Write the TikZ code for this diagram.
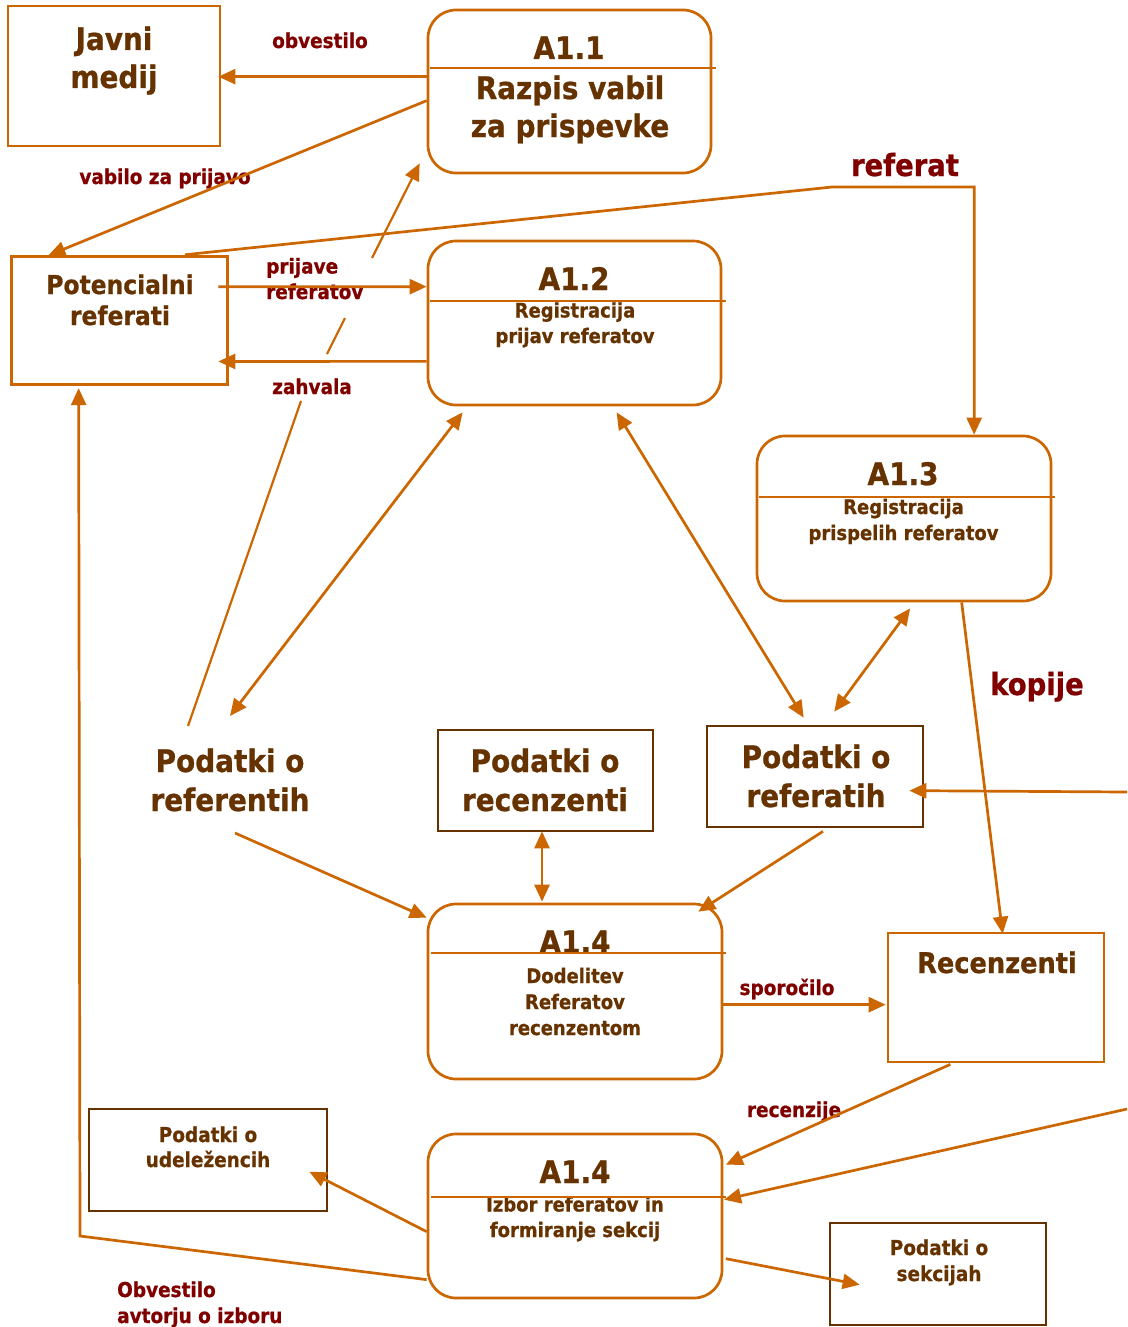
\documentclass[tikz,border=0pt]{standalone}
\usepackage{fontspec}
\setmainfont{DejaVu Sans}[FakeStretch=0.9, BoldFeatures={FakeBold=0.8}]
\usetikzlibrary{arrows.meta,calc}

\definecolor{flow}{HTML}{CC6600}
\definecolor{ink}{HTML}{663300}
\definecolor{lbl}{HTML}{800000}

\begin{document}
\begin{tikzpicture}[x=1pt,y=-1pt,
  tip/.tip={Triangle[length=17pt,width=15pt]},
  flowline/.style={draw=flow, line width=2.7pt},
  arr/.style={flowline, -tip},
  darr/.style={flowline, tip-tip},
  procbox/.style={draw=flow, line width=2.7pt, rounded corners=28pt, inner sep=0pt},
  extbox/.style={draw=flow, line width=2.7pt, inner sep=0pt},
  storebox/.style={draw=ink, line width=2.7pt, inner sep=0pt},
  divider/.style={draw=flow, line width=2pt},
  bigtxt/.style={text=ink, font=\bfseries\fontsize{31}{38}\selectfont, align=center, anchor=base, inner sep=0pt},
  midtxt/.style={text=ink, font=\bfseries\fontsize{26}{31}\selectfont, align=center, anchor=base, inner sep=0pt},
  smalltxt/.style={text=ink, font=\bfseries\fontsize{20}{25.5}\selectfont, align=center, anchor=base, inner sep=0pt},
  flowlbl/.style={text=lbl, font=\bfseries\fontsize{20.5}{25.5}\selectfont, anchor=base, inner sep=0pt},
  biglbl/.style={text=lbl, font=\bfseries\fontsize{30.5}{36}\selectfont, anchor=base, inner sep=0pt}]

\fill[white] (0,0) rectangle (1127,1327);
\useasboundingbox (0,0) rectangle (1127,1327);

% ---------- boxes ----------
\node[extbox, minimum width=212pt, minimum height=140pt] (jm) at (114,76) {};
\node[procbox, minimum width=283pt, minimum height=163pt] (a11) at (569.5,91.5) {};
\node[extbox, minimum width=216pt, minimum height=128pt] (pr) at (119.7,320.8) {};
\node[procbox, minimum width=293pt, minimum height=164pt] (a12) at (574.5,323) {};
\node[procbox, minimum width=294pt, minimum height=165pt] (a13) at (904,518.5) {};
\node[storebox, minimum width=215pt, minimum height=101pt] (prec) at (545.5,780.5) {};
\node[storebox, minimum width=216pt, minimum height=101pt] (prf) at (815,776.5) {};
\node[procbox, minimum width=294pt, minimum height=175pt] (a14) at (575,991.5) {};
\node[extbox, minimum width=216pt, minimum height=129pt] (rec) at (996,997.5) {};
\node[procbox, minimum width=294pt, minimum height=164pt] (a15) at (575,1216) {};
\node[storebox, minimum width=238pt, minimum height=102pt] (ude) at (208,1160) {};
\node[storebox, minimum width=216pt, minimum height=102pt] (sek) at (938,1274) {};

% ---------- texts in boxes (multi-line texts sit on their last baseline) ----------
\node[bigtxt] (jmt) at (114,88) {Javni\\medij};
\node[bigtxt] (a11n) at (569,59) {A1.1};
\node[bigtxt] (a11t) at (570,137) {Razpis vabil\\za prispevke};
\node[midtxt] (prt) at (120,325) {Potencialni\\referati};
\node[bigtxt] (a12n) at (574,290) {A1.2};
\node[smalltxt] (a12t) at (575,343) {Registracija\\prijav referatov};
\node[bigtxt] (a13n) at (903,485) {A1.3};
\node[smalltxt, font=\bfseries\fontsize{20}{26}\selectfont] (a13t) at (903.5,540) {Registracija\\prispelih referatov};
\node[bigtxt, font=\bfseries\fontsize{31}{39}\selectfont] (pref) at (230,811) {Podatki o\\referentih};
\node[bigtxt, font=\bfseries\fontsize{31}{39}\selectfont] (prect) at (545,811) {Podatki o\\recenzenti};
\node[bigtxt, font=\bfseries\fontsize{31}{39}\selectfont] (prft) at (816,807) {Podatki o\\referatih};
\node[bigtxt] (a14n) at (575,953) {A1.4};
\node[smalltxt, font=\bfseries\fontsize{20}{26}\selectfont] (a14t) at (575,1035) {Dodelitev\\Referatov\\recenzentom};
\node[bigtxt, font=\bfseries\fontsize{28.5}{34}\selectfont] (rect) at (997,973) {Recenzenti};
\node[bigtxt] (a15n) at (575,1183) {A1.4};
\node[smalltxt] (a15t) at (575,1237) {Izbor referatov in\\formiranje sekcij};
\node[smalltxt, font=\bfseries\fontsize{20.5}{25}\selectfont] (udet) at (208,1167) {Podatki o\\udeležencih};
\node[smalltxt, font=\bfseries\fontsize{20.5}{26}\selectfont] (sekt) at (939,1281) {Podatki o\\sekcijah};

% ---------- dividers of the process boxes ----------
\draw[divider] ($(a11.north west)+(3,59)$) -- ($(a11.north east)+(4,59)$);
\draw[divider] ($(a12.north west)+(3,61)$) -- ($(a12.north east)+(4,61)$);
\draw[divider] ($(a13.north west)+(3,62)$) -- ($(a13.north east)+(3,62)$);
\draw[divider] ($(a14.north west)+(4,50)$) -- ($(a14.north east)+(3,50)$);
\draw[divider] ($(a15.north west)+(4,64)$) -- ($(a15.north east)+(3,64)$);

% ---------- flow labels ----------
\node[flowlbl] (lobv) at (320,48) {obvestilo};
\node[flowlbl] (lvab) at (165,184) {vabilo za prijavo};
\node[flowlbl, anchor=base west, align=left] (lpri) at (266,299) {prijave\\referatov};
\node[flowlbl] (lzah) at (312,394) {zahvala};
\node[biglbl] (lref) at (905,176) {referat};
\node[biglbl] (lkop) at (1037,695) {kopije};
\node[flowlbl] (lspo) at (787,995) {sporočilo};
\node[flowlbl] (lrec) at (794,1117) {recenzije};
\node[flowlbl, anchor=base west, align=left, font=\bfseries\fontsize{20.5}{26}\selectfont] (lizb) at (117,1323) {Obvestilo\\avtorju o izboru};

% ---------- helper coordinates for bends and free ends ----------
\coordinate (k1) at (301,401);
\coordinate (k2) at (327,354);
\coordinate (k3) at (345,318);
\coordinate (k4) at (372,258);
\coordinate (rbend) at (832,187);
\coordinate (lbend) at (80,1236);
\coordinate (rin1) at (1127,792);
\coordinate (rin2) at (1127,1109);

% ---------- connectors ----------
\draw[arr] ($(a11.north west)+(0,68)$) -- ($(jm.north east)+(-3,72)$);
\draw[arr] ($(a11.north west)+(0,92)$) -- ($(pr.north west)+(38,0)$);

% registrations going up, interrupted behind the labels
\draw[flow, line width=2.2pt] ($(pref.base)+(-42,-85)$) -- (k1);
\draw[flow, line width=2.2pt] (k2) -- (k3);
\draw[flow, line width=2.2pt, -tip] (k4) -- ($(a11.south west)+(-7,-11)$);

\draw[arr] ($(pr.north east)+(-10.7,31.3)$) -- ($(a12.north west)+(0,47)$);
\draw[arr] ($(a12.north west)+(0,121.7)$) -- ($(pr.north east)+(-10.7,106)$);

\draw[arr] ($(pr.north)+(65.3,-0.7)$) -- (rbend) -| ($(a13.north west)+(218.5,0)$);

\draw[darr] ($(a12.south west)+(36,6)$) -- ($(pref.base)+(0,-95)$);
\draw[darr] ($(a12.south west)+(190,6)$) -- ($(prf.north west)+(98,-7)$);
\draw[darr] ($(a13.south west)+(154.5,6)$) -- ($(prf.north west)+(128.6,-13)$);
\draw[arr] ($(a13.south west)+(206,0)$) -- ($(rec.north west)+(116,2)$);
\draw[arr] (rin1) -- ($(prf.north east)+(-15,66)$);

\draw[arr] ($(pref.base)+(5,22)$) -- ($(a14.north west)+(0,15)$);
\draw[darr] ($(prec.south)+(-3.5,-1)$) -- ($(a14.north)+(-33,-1)$);
\draw[arr] ($(prf.south)+(8,3)$) -- ($(a14.north east)+(-25,9)$);
\draw[arr] ($(a14.north east)+(0,102)$) -- ($(rec.north west)+(-1,73)$);

\draw[arr] ($(rec.south west)+(63.7,1)$) -- ($(a15.north east)+(2.5,32)$);
\draw[arr] (rin2) -- ($(a15.north east)+(0.7,67)$);
\draw[arr] ($(a15.north west)+(0,99)$) -- ($(ude.north east)+(-19,64)$);
\draw[arr] ($(a15.north west)+(0,147)$) -- (lbend) -- ($(pr.south west)+(68.3,2)$);
\draw[arr] ($(a15.north east)+(2.5,126)$) -- ($(sek.north west)+(31,63)$);

\end{tikzpicture}
\end{document}
